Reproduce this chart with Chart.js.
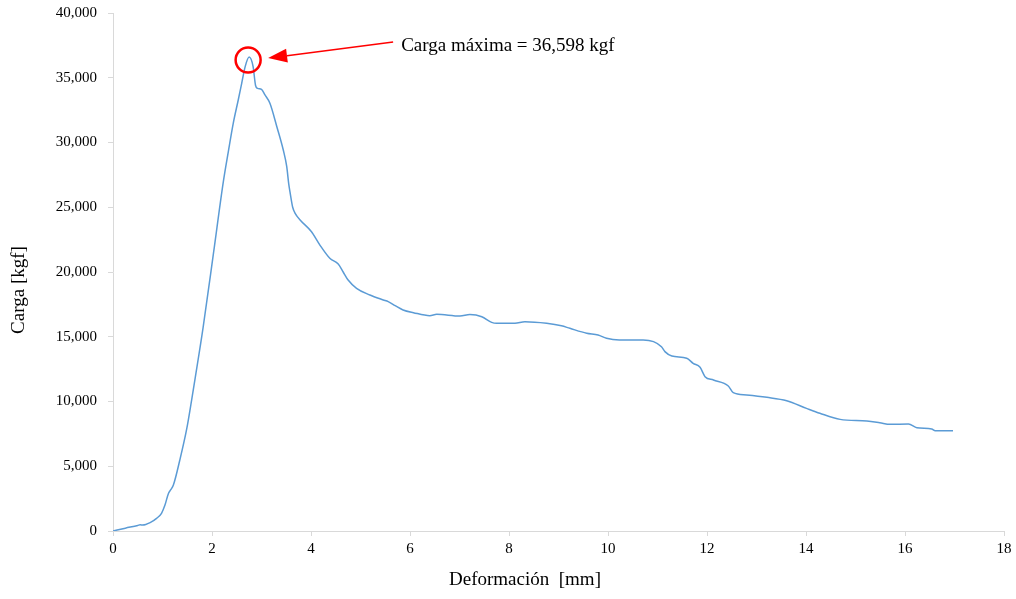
<!DOCTYPE html>
<html>
<head>
<meta charset="utf-8">
<title>Carga vs Deformación</title>
<script src="https://cdn.jsdelivr.net/npm/chart.js@4/dist/chart.umd.min.js"></script>
<style>
  html, body { margin: 0; padding: 0; background: #ffffff; }
  #wrap { width: 1016px; height: 599px; position: relative; }
</style>
</head>
<body>
<div id="wrap"><canvas id="load-chart"></canvas></div>
<script>
// Deformation [mm] and load [kgf] readings
const deformacion = [
  0.00, 0.25, 0.50, 0.55, 0.60, 0.75, 0.88, 0.98, 1.05, 1.12,
  1.16, 1.22, 1.35, 1.49, 1.59, 1.66, 1.82, 2.03, 2.23,
  2.33, 2.43, 2.53, 2.60, 2.67, 2.75, 2.83, 2.88, 2.92, 3.00,
  3.07, 3.17, 3.31, 3.44, 3.51, 3.55, 3.58, 3.63, 3.68, 3.78,
  4.01, 4.18, 4.38, 4.55, 4.65, 4.75, 4.92, 5.19, 5.46, 5.56,
  5.70, 5.86, 6.07, 6.40, 6.54, 7.01, 7.21, 7.45, 7.65, 7.75,
  8.12, 8.32, 8.76, 9.06, 9.23, 9.57, 9.80, 9.97, 10.23, 10.71,
  10.92, 11.08, 11.15, 11.29, 11.59, 11.72, 11.86, 11.96, 12.13, 12.43,
  12.53, 12.80, 13.21, 13.61, 14.01, 14.28, 14.69, 15.23, 15.49, 15.70,
  16.07, 16.24, 16.54, 16.61, 16.97
];
const carga = [
  0, 220, 430, 480, 460, 650, 980, 1370, 2000, 2900,
  3150, 3550, 5480, 7900, 10150, 11800, 15700, 21450, 27000,
  29300, 31500, 33280, 34570, 35860, 36598, 35870, 34400, 34180, 34100,
  33670, 33030, 31220, 29420, 28130, 26800, 26080, 25000, 24530, 24020,
  23110, 22080, 21060, 20620, 20000, 19380, 18740, 18220, 17840, 17710,
  17400, 17070, 16860, 16630, 16730, 16600, 16710, 16550, 16110, 16040,
  16040, 16160, 16040, 15850, 15650, 15270, 15140, 14880, 14750, 14750,
  14620, 14230, 13850, 13510, 13340, 12950, 12640, 11920, 11660, 11200,
  10680, 10500, 10320, 10060, 9470, 9090, 8620, 8490, 8360, 8240,
  8260, 7980, 7880, 7750, 7750
];
const xTicks = [0, 2, 4, 6, 8, 10, 12, 14, 16, 18];
const yTicks = [0, 5000, 10000, 15000, 20000, 25000, 30000, 35000, 40000];

const cargaMaxima = Math.max(...carga);
const etiquetaMax = 'Carga máxima = ' + cargaMaxima.toLocaleString('en-US') + ' kgf';

const axisColor = '#d9d9d9';
const serif = '"Liberation Serif", "Times New Roman", serif';

// Axis titles plus the circled maximum with its arrow and label
const annotations = {
  id: 'annotations',
  afterDraw(chart) {
    const ctx = chart.ctx;
    const xs = chart.scales.x;
    const ys = chart.scales.y;
    const i = carga.indexOf(cargaMaxima);
    const cx = xs.getPixelForValue(deformacion[i]) - 1;
    const cy = ys.getPixelForValue(cargaMaxima) + 3;

    ctx.save();
    // circle round the peak
    ctx.strokeStyle = '#ff0000';
    ctx.lineWidth = 2.5;
    ctx.beginPath();
    ctx.arc(cx, cy, 12.5, 0, Math.PI * 2);
    ctx.stroke();

    // arrow from the label to the circle
    const tipX = cx + 20, tipY = cy - 2;
    const tailX = cx + 145, tailY = cy - 18;
    const ang = Math.atan2(tailY - tipY, tailX - tipX);
    const headLen = 19, headW = 7;
    const baseX = tipX + Math.cos(ang) * headLen;
    const baseY = tipY + Math.sin(ang) * headLen;
    ctx.lineWidth = 1.5;
    ctx.beginPath();
    ctx.moveTo(tailX, tailY);
    ctx.lineTo(baseX, baseY);
    ctx.stroke();
    ctx.fillStyle = '#ff0000';
    ctx.beginPath();
    ctx.moveTo(tipX, tipY);
    ctx.lineTo(baseX - Math.sin(ang) * headW, baseY + Math.cos(ang) * headW);
    ctx.lineTo(baseX + Math.sin(ang) * headW, baseY - Math.cos(ang) * headW);
    ctx.closePath();
    ctx.fill();

    ctx.fillStyle = '#000000';
    ctx.font = '19px ' + serif;
    ctx.textAlign = 'left';
    ctx.textBaseline = 'middle';
    ctx.fillText(etiquetaMax, tailX + 8, cy - 14);

    // axis titles
    ctx.textAlign = 'center';
    ctx.fillText('Deformación  [mm]', 525, 580);
    ctx.translate(19, 290);
    ctx.rotate(-Math.PI / 2);
    ctx.fillText('Carga [kgf]', 0, 0);
    ctx.restore();
  }
};

const ctx = document.getElementById('load-chart').getContext('2d');
new Chart(ctx, {
  type: 'line',
  data: {
    datasets: [{
      data: deformacion.map((x, k) => ({ x: x, y: carga[k] })),
      borderColor: '#5b9bd5',
      borderWidth: 1.5,
      pointRadius: 0,
      fill: false,
      cubicInterpolationMode: 'monotone'
    }]
  },
  options: {
    responsive: true,
    maintainAspectRatio: false,
    animation: false,
    layout: { padding: { top: 13, right: 12, left: 0, bottom: 0 } },
    plugins: {
      legend: { display: false },
      tooltip: { enabled: false }
    },
    scales: {
      x: {
        type: 'linear',
        min: 0,
        max: 18,
        afterBuildTicks: (scale) => { scale.ticks = xTicks.map(v => ({ value: v })); },
        afterFit: (scale) => {
          scale.height = 68;
          scale.paddingLeft = 0;
          scale.paddingRight = 0;
        },
        grid: { drawOnChartArea: false, color: axisColor, tickLength: 5 },
        border: { color: axisColor, width: 1 },
        ticks: { color: '#000000', font: { family: serif, size: 15 }, padding: 4, maxRotation: 0 }
      },
      y: {
        min: 0,
        max: 40000,
        afterBuildTicks: (scale) => { scale.ticks = yTicks.map(v => ({ value: v })); },
        afterFit: (scale) => {
          scale.width = 113;
          scale.paddingTop = 0;
          scale.paddingBottom = 0;
        },
        grid: { drawOnChartArea: false, color: axisColor, tickLength: 5 },
        border: { color: axisColor, width: 1 },
        ticks: {
          color: '#000000',
          font: { family: serif, size: 15 },
          padding: 11,
          callback: (v) => v.toLocaleString('en-US')
        }
      }
    }
  },
  plugins: [annotations]
});
</script>
</body>
</html>
